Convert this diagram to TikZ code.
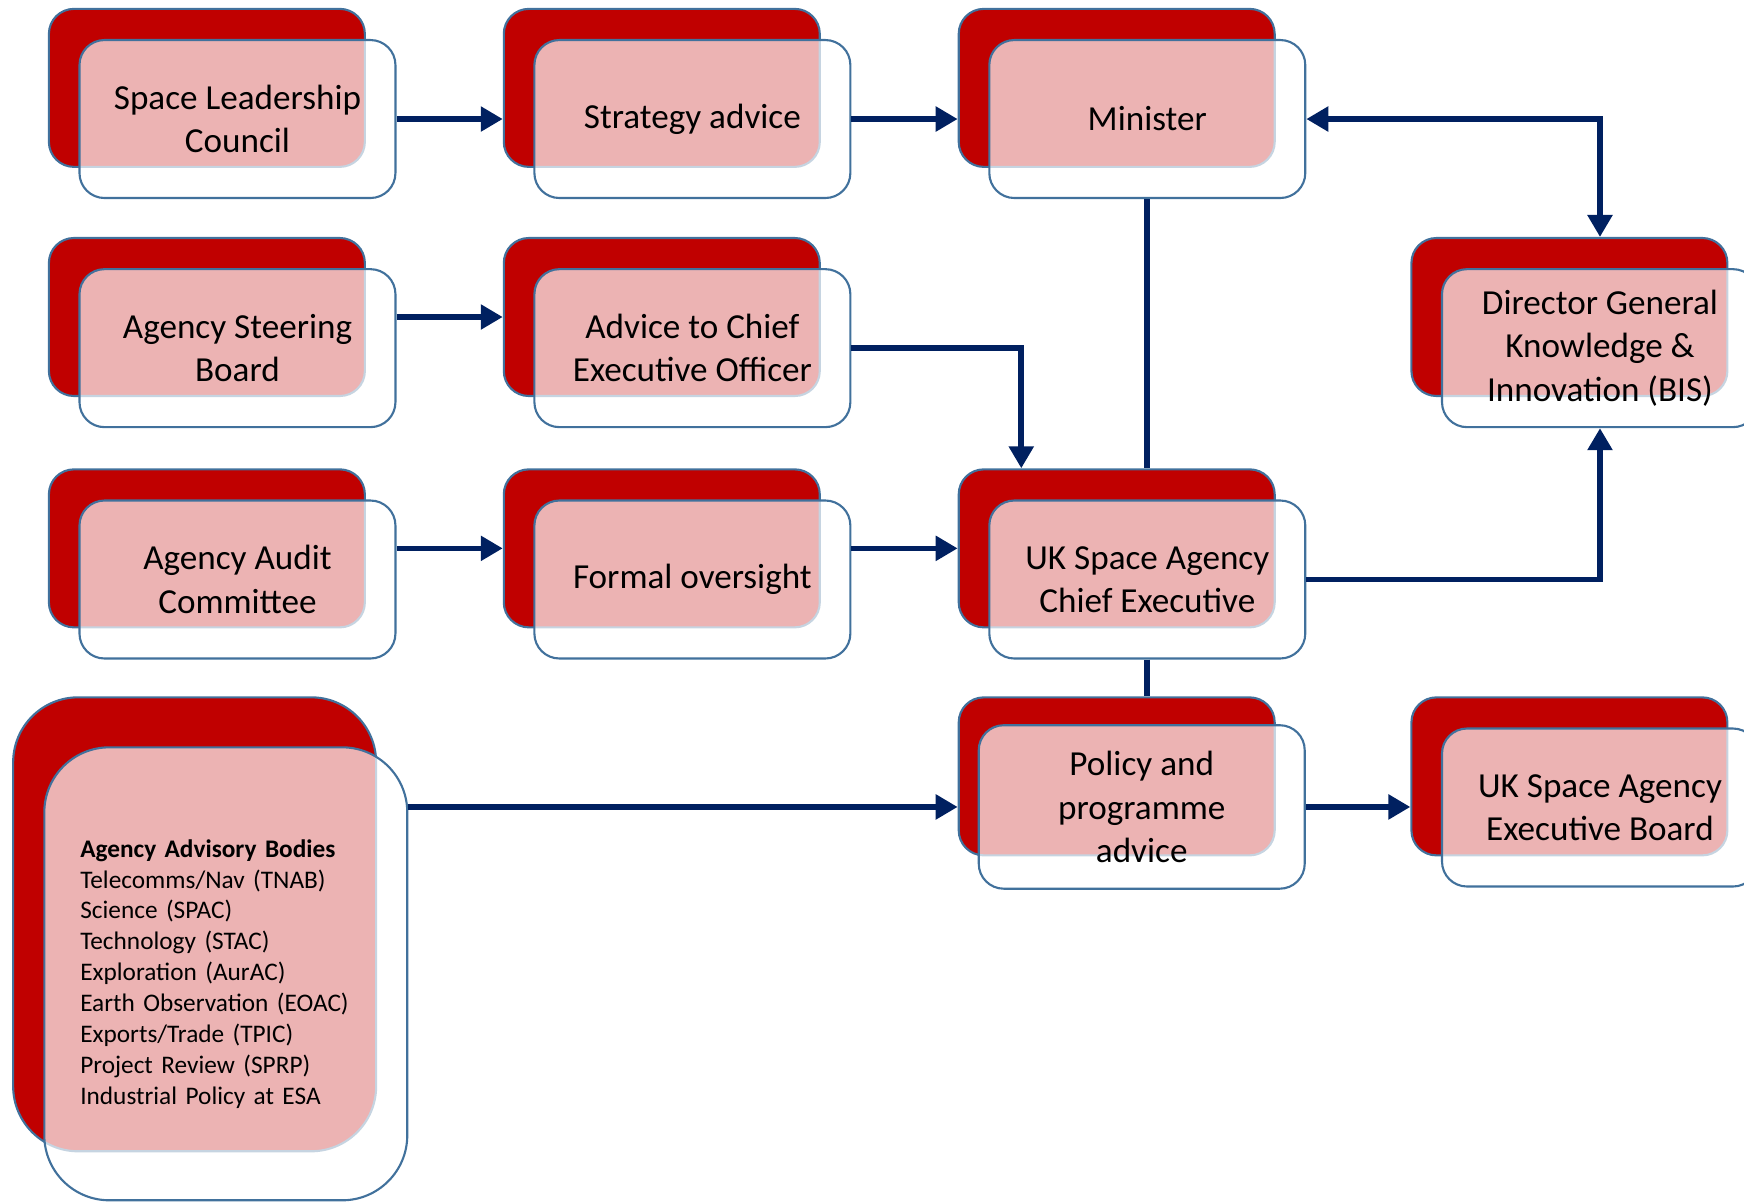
\documentclass[tikz,border=0pt]{standalone}
\usepackage{fontspec}
\setmainfont{Carlito}
\usetikzlibrary{calc,arrows.meta}
\definecolor{boxred}{HTML}{C00000}
\definecolor{boxline}{HTML}{41719C}
\definecolor{linknavy}{HTML}{002060}

\begin{document}
\begin{tikzpicture}[x=0.011122cm,y=-0.011122cm,>={Triangle[length=0.22cm,width=0.24cm]},
    backbox/.style={draw=boxline,line width=0.6pt,fill=boxred,rounded corners=0.25cm,minimum width=3.16cm,minimum height=1.58cm,inner sep=0pt},
    frontbox/.style={draw=boxline,line width=0.6pt,fill=white,fill opacity=0.7,text opacity=1,rounded corners=0.25cm,minimum width=3.16cm,minimum height=1.58cm,inner sep=0pt,align=center,font=\fontsize{10}{12.3}\selectfont},
    link/.style={draw=linknavy,line width=1.6pt,->}]
      \useasboundingbox (0,0) rectangle (1568,1081);
      \clip (0,0) rectangle (1568,1081);
      \node[backbox] (slcb) at (186,79) {};
      \node[frontbox] (slc) at (213.5,107) {Space Leadership\\Council};
      \node[backbox] (strb) at (595,79) {};
      \node[frontbox] (str) at (622.5,107) {Strategy advice};
      \node[backbox] (ministerb) at (1004,79) {};
      \node[frontbox] (minister) at (1031.5,107) {Minister};
      \node[backbox] (asbb) at (186,285) {};
      \node[frontbox] (asb) at (213.5,313) {Agency Steering\\Board};
      \node[backbox] (advb) at (595,285) {};
      \node[frontbox] (adv) at (622.5,313) {Advice to Chief\\Executive Officer};
      \node[backbox] (dgb) at (1411,285) {};
      \node[frontbox] (dg) at (1438.5,313) {Director General\\Knowledge \&\\Innovation (BIS)};
      \node[backbox] (aacb) at (186,493) {};
      \node[frontbox] (aac) at (213.5,521) {Agency Audit\\Committee};
      \node[backbox] (fob) at (595,493) {};
      \node[frontbox] (fo) at (622.5,521) {Formal oversight};
      \node[backbox] (ceb) at (1004,493) {};
      \node[frontbox] (ce) at (1031.5,521) {UK Space Agency\\Chief Executive};
      \node[backbox,minimum width=3.63cm,minimum height=4.54cm,rounded corners=0.65cm] (aabb) at (175,831) {};
      \node[frontbox,minimum width=3.63cm,minimum height=4.53cm,rounded corners=0.65cm,text width=2.91cm,align=left,font=\fontsize{7.2}{8.78}\selectfont] (aab) at (203,875.5) {\textbf{Agency Advisory Bodies}\\Telecomms/Nav (TNAB)\\Science (SPAC)\\Technology (STAC)\\Exploration (AurAC)\\Earth Observation (EOAC)\\Exports/Trade (TPIC)\\Project Review (SPRP)\\Industrial Policy at ESA};
      \node[backbox] (polb) at (1004,698) {};
      \node[frontbox,minimum width=3.26cm,minimum height=1.635cm] (pol) at (1026.5,725.5) {Policy and\\programme\\advice};
      \node[backbox] (exbb) at (1411,698) {};
      \node[frontbox] (exb) at (1438.5,726) {UK Space Agency\\Executive Board};
      \draw[link] (slc.east) -- (slc.east -| strb.west);
      \draw[link] (str.east) -- (str.east -| ministerb.west);
      \draw[link,<->] (minister.east) -| (dg.north |- dgb.north);
      \draw[link] (asb.east |- advb.west) -- (advb.west);
      \draw[link] (adv.east) -| ($(ceb.north west)!0.2!(ceb.north east)$);
      \draw[link,-] (minister.south) -- (minister.south |- ceb.north);
      \draw[link] (aac.east |- fob.west) -- (fob.west);
      \draw[link] (fo.east |- ceb.west) -- (ceb.west);
      \draw[link] (ce.east) -| (dg.south);
      \draw[link,-] (ce.south) -- (ce.south |- polb.north);
      \draw[link] (pol -| aab.east) -- (pol -| polb.west);
      \draw[link] (pol.east) -- (pol.east -| exbb.west);
    \end{tikzpicture}
\end{document}
